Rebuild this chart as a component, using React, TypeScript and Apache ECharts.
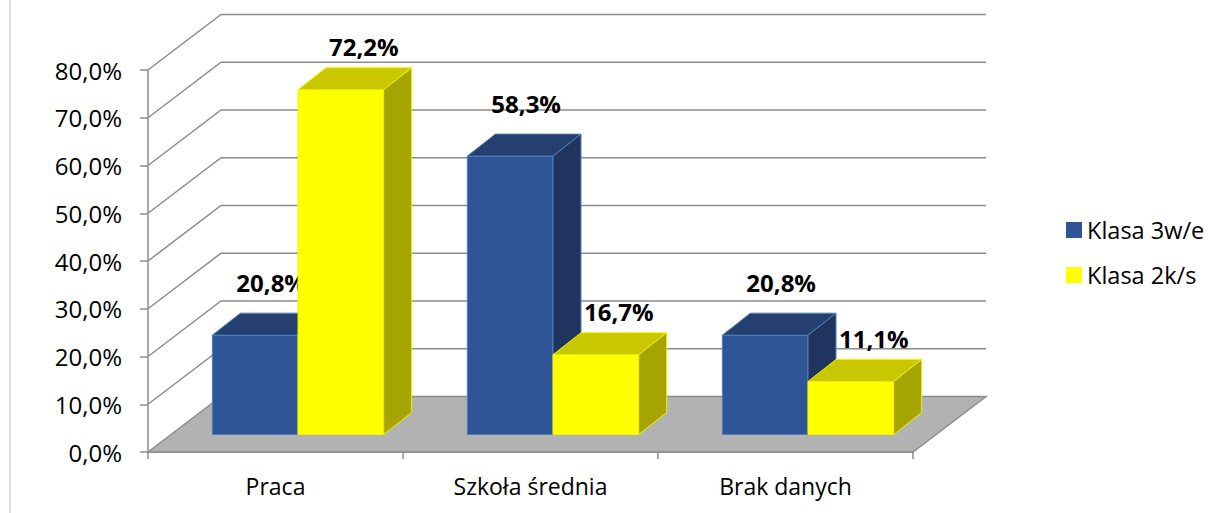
import React, { useEffect, useRef } from "react";
import * as echarts from "echarts";

const categories = ["Praca", "Szkoła średnia", "Brak danych"];
const seriesNames = ["Klasa 3w/e", "Klasa 2k/s"];
const klasa3we = [0.208, 0.583, 0.208];
const klasa2ks = [0.722, 0.167, 0.111];
const yTicks = [0, 0.1, 0.2, 0.3, 0.4, 0.5, 0.6, 0.7, 0.8];

const FONT = "'Open Sans', Lato, sans-serif";
const WALL_DX = 73;
const WALL_DY = -55.5;
const BAR_FX = 22.5;
const BAR_FY = -17.5;
const BAR_DX = 28;
const BAR_DY = -22;
const BAR_FRAC = 0.336;

const palettes = [
  { front: "#2F5597", top: "#243F70", side: "#1F355F", edge: "#5080BC", lx: 16, ly: 31 },
  { front: "#FFFF00", top: "#C8C700", side: "#A6A400", edge: "#F2F200", lx: 23, ly: 21 },
];

const fmt = (v: number) => (v * 100).toFixed(1).replace(".", ",") + "%";

function barRenderer(k: number) {
  const p = palettes[k];
  return (params: any, api: any) => {
    const idx = api.value(0);
    const v = api.value(1);
    const base = api.coord([idx, 0]);
    const top = api.coord([idx, v]);
    const band = api.size([1, 0])[0];
    const w = band * BAR_FRAC;
    const x0 = base[0] - w + k * w + BAR_FX;
    const x1 = x0 + w;
    const yt = top[1] + BAR_FY;
    const yb = base[1] + BAR_FY;
    return {
      type: "group",
      children: [
        {
          type: "rect",
          shape: { x: x0, y: yt, width: w, height: yb - yt },
          style: { fill: p.front, stroke: p.edge, lineWidth: 1 },
        },
        {
          type: "polygon",
          shape: {
            points: [
              [x0, yt],
              [x0 + BAR_DX, yt + BAR_DY],
              [x1 + BAR_DX, yt + BAR_DY],
              [x1, yt],
            ],
          },
          style: { fill: p.top, stroke: p.edge, lineWidth: 1 },
        },
        {
          type: "polygon",
          shape: {
            points: [
              [x1, yt],
              [x1 + BAR_DX, yt + BAR_DY],
              [x1 + BAR_DX, yb + BAR_DY],
              [x1, yb],
            ],
          },
          style: { fill: p.side, stroke: p.edge, lineWidth: 1 },
        },
        {
          type: "text",
          x: (x0 + x1) / 2 + p.lx,
          y: yt + BAR_DY - p.ly,
          style: {
            text: fmt(v),
            font: `bold 24px ${FONT}`,
            fill: "#000",
            align: "center",
            verticalAlign: "middle",
          },
        },
      ],
    };
  };
}

export default function App() {
  const ref = useRef<HTMLDivElement>(null);
  useEffect(() => {
    if (!ref.current) return;
    const chart = echarts.init(ref.current, null, { renderer: "svg" });
    chart.setOption({
      animation: false,
      backgroundColor: "#fff",
      grid: { left: 148, right: 303, top: 70, bottom: 61 },
      graphic: [
        {
          type: "line",
          shape: { x1: 10, y1: 0, x2: 10, y2: 513 },
          style: { stroke: "#D0D0D0", lineWidth: 1.5 },
        },
      ],
      legend: {
        orient: "vertical",
        left: 1061,
        top: 213,
        itemWidth: 16,
        itemHeight: 16,
        itemGap: 21,
        icon: "rect",
        data: seriesNames,
        textStyle: { fontFamily: FONT, fontSize: 23.5, color: "#000" },
      },
      xAxis: {
        type: "category",
        data: categories,
        axisLine: { show: true, lineStyle: { color: "#8C8C8C", width: 1.5 } },
        axisTick: { show: true, length: 7, lineStyle: { color: "#8C8C8C", width: 1.5 } },
        axisLabel: { fontFamily: FONT, fontSize: 23, color: "#000", margin: 22 },
        splitLine: { show: false },
      },
      yAxis: {
        type: "value",
        min: 0,
        max: 0.8,
        interval: 0.1,
        axisLine: { show: true, lineStyle: { color: "#8C8C8C", width: 1.5 } },
        axisTick: { show: true, length: 8, lineStyle: { color: "#8C8C8C", width: 1.5 } },
        axisLabel: {
          fontFamily: FONT,
          fontSize: 24,
          color: "#000",
          margin: 26,
          formatter: (v: number) => fmt(v),
        },
        splitLine: { show: false },
      },
      series: [
        {
          type: "custom",
          name: "floor",
          silent: true,
          z: 1,
          data: [[0, 0]],
          renderItem: (params: any, api: any) => {
            const cs = params.coordSys;
            const y = api.coord([0, 0])[1];
            const l = cs.x;
            const r = cs.x + cs.width;
            return {
              type: "polygon",
              shape: {
                points: [
                  [l, y],
                  [l + WALL_DX, y + WALL_DY],
                  [r + WALL_DX, y + WALL_DY],
                  [r, y],
                ],
              },
              style: { fill: "#B2B2B2", stroke: "#8C8C8C", lineWidth: 1.5 },
            };
          },
        },
        {
          type: "custom",
          name: "grid3d",
          silent: true,
          z: 1,
          data: yTicks.filter((t) => t > 0).map((t) => [0, t]),
          renderItem: (params: any, api: any) => {
            const cs = params.coordSys;
            const y = api.coord([0, api.value(1)])[1];
            const l = cs.x;
            const r = cs.x + cs.width;
            return {
              type: "polyline",
              shape: {
                points: [
                  [l, y],
                  [l + WALL_DX, y + WALL_DY],
                  [r + WALL_DX, y + WALL_DY],
                ],
              },
              style: { fill: null, stroke: "#8C8C8C", lineWidth: 1.5 },
            };
          },
        },
        {
          type: "custom",
          name: seriesNames[0],
          z: 3,
          itemStyle: { color: palettes[0].front },
          data: klasa3we.map((v, i) => [i, v]),
          renderItem: barRenderer(0),
        },
        {
          type: "custom",
          name: seriesNames[1],
          z: 4,
          itemStyle: { color: palettes[1].front },
          data: klasa2ks.map((v, i) => [i, v]),
          renderItem: barRenderer(1),
        },
      ],
    });
    return () => chart.dispose();
  }, []);
  return (
    <div
      ref={ref}
      style={{ position: "fixed", left: 0, top: 0, width: 1216, height: 513 }}
    />
  );
}
